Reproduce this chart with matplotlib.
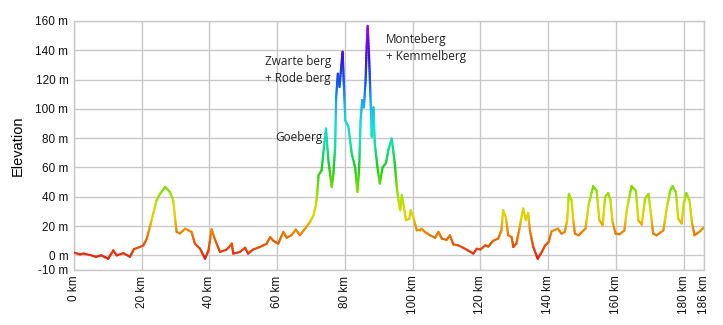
import numpy as np
import matplotlib
matplotlib.use("Agg")
import matplotlib.pyplot as plt
from matplotlib.collections import LineCollection
from matplotlib.colors import LinearSegmentedColormap, Normalize

# route profile: distance (km) and elevation (m)
distance_km = [
    0, 1.8, 2.8, 4.8, 6.5, 8, 10.1, 11.6, 12.6, 14.6, 16.5, 17.7, 19.5, 20.5,
    21.5, 22.4, 23.4, 24.4, 25.4, 26.9, 28.3, 29.3, 29.8, 30.3, 31.3, 32.8,
    34.7, 35.7, 37.2, 38.7, 39.7, 40.6, 41.6, 43.1, 45.1, 46.6, 47, 49, 50.5,
    51.4, 52.9, 54.9, 56.9, 57.9, 58.8, 60.3, 61.8, 62.8, 64.2, 65.5, 66.7,
    68.2, 69.7, 70.7, 71.4, 71.8, 72.2, 73.1, 73.8, 74.4, 75.1, 76.1, 76.6,
    77.1, 77.4, 77.9, 78.4, 78.8, 79.3, 79.7, 80.1, 81, 82, 83, 83.7, 84.2,
    84.6, 85.1, 85.6, 86.1, 86.4, 86.7, 87.1, 87.5, 87.9, 88.4, 88.8, 89.6,
    90.3, 91.1, 92.1, 92.8, 93.8, 94.6, 95.3, 95.8, 96.3, 96.8, 97.4, 98, 99,
    99.4, 100.2, 101.2, 102.2, 102.6, 103.6, 105.1, 106.6, 107.6, 108.6, 110,
    111, 112, 113.5, 114.9, 116.3, 117.9, 118.9, 120, 121.4, 122.3, 123.8,
    125.2, 126.2, 126.7, 127.5, 128.2, 129.2, 129.7, 130.6, 131.6, 132.6,
    133.4, 134.1, 134.6, 135.6, 136.9, 138.1, 139.1, 140.1, 141, 142.9, 143.9,
    144.9, 145.6, 146.1, 146.9, 147.4, 147.9, 149, 150, 151, 152, 153.3, 154.3,
    155.1, 156.1, 156.8, 157.7, 158.4, 159, 159.9, 161.1, 162.5, 163.2, 164.6,
    165.9, 166.6, 167.6, 168.6, 169.6, 170.2, 171, 172, 174, 175, 176, 176.7,
    177.7, 178.4, 179.4, 180, 180.8, 181.7, 182.5, 183.2, 184.6, 185.6, 186,
]
elevation_m = [
    1.8, 0.7, 1.2, 0.2, -1, 0, -2.3, 3.4, 0, 1.5, -1, 4.3, 5.7, 6.8,
    11.4, 19.4, 28.5, 37.6, 42, 46.7, 43.3, 37.6, 26.2, 16, 15, 18.2,
    16, 8, 4.6, -2.3, 3.4, 17.8, 11, 2.3, 4, 8, 1.2, 2.3, 5.2,
    1.2, 4, 5.7, 8, 12.5, 10, 8, 16, 12, 13.7, 17.6, 13.7,
    18.2, 22.8, 27.3, 34, 42, 54.7, 58, 74, 86.6, 65, 46.7, 56,
    74, 108, 124, 115, 126, 139, 115, 92, 88, 69.5, 60, 43.3, 60,
    92, 106, 101, 119.7, 142, 156.6, 137, 110.5, 81, 101, 76.4, 60,
    49, 60, 63, 71.8, 79.8, 65, 46.7, 37.6, 30.8, 41, 33, 24, 25,
    30.8, 26, 17, 17, 18.2, 16, 13.7, 12, 16, 11.4, 10.6,
    13.7, 7.5, 6.8, 5.2, 3.4, 1.2, 4.5, 4, 6.8, 6, 10,
    11.4, 17, 30.8, 26, 13.7, 12.5, 5.7, 8, 19.4, 32,
    24, 29, 17, 5.7, -2.3, 2.3, 6.8, 9, 16.4, 18.2, 14.8,
    16, 24, 42, 37.6, 24, 14.8, 13.7, 16, 18.2, 35.3, 47.2, 44.3,
    24, 20.5, 39.9, 42.6, 37.6, 22.8, 14.8, 14.4, 17, 30.8, 47.2,
    44, 24, 21, 38.7, 42, 30.8, 14.8, 13.7, 17, 32, 44, 47.2,
    43.3, 25, 21.7, 35.3, 42.6, 37.6, 21.7, 13.7, 16, 18.2, 19,
]

x_ticks = [0, 20, 40, 60, 80, 100, 120, 140, 160, 180, 186]
y_ticks = [-10, 0, 20, 40, 60, 80, 100, 120, 140, 160]

climbs = [
    ("Zwarte berg\n+ Rode berg", 56.5, 137),
    ("Goeberg", 59.5, 85),
    ("Monteberg\n+ Kemmelberg", 92.2, 152),
]

# elevation colour scale, red at sea level up to violet at the top
stops = [(-5, "#e00000"), (0, "#e62e12"), (10, "#ea6200"), (18, "#ee9000"),
         (25, "#e6cf00"), (35, "#c4e000"), (45, "#7ee000"), (60, "#14d014"),
         (75, "#12dfa0"), (90, "#14dfe0"), (105, "#18a6f0"), (120, "#1050ee"),
         (135, "#3a12e0"), (160, "#b800f0")]
lo, hi = stops[0][0], stops[-1][0]
cmap = LinearSegmentedColormap.from_list(
    "elev", [((v - lo) / (hi - lo), c) for v, c in stops])
norm = Normalize(lo, hi)

plt.rcParams['font.family'] = ['Liberation Sans', 'DejaVu Sans']

fig = plt.figure(figsize=(7.23, 3.25), dpi=100)
ax = fig.add_axes([74 / 723, 55 / 325, 630 / 723, 249 / 325])

# split every leg into short pieces so the colour follows the elevation
x = np.array(distance_km)
y = np.array(elevation_m)
segs, mids = [], []
for i in range(len(x) - 1):
    n = max(1, int(abs(y[i + 1] - y[i]) / 2) + 1)
    t = np.linspace(0, 1, n + 1)
    xs = x[i] + (x[i + 1] - x[i]) * t
    ys = y[i] + (y[i + 1] - y[i]) * t
    for j in range(n):
        segs.append([(xs[j], ys[j]), (xs[j + 1], ys[j + 1])])
        mids.append((ys[j] + ys[j + 1]) / 2)
lc = LineCollection(segs, colors=cmap(norm(np.array(mids))),
                    linewidths=1.6, capstyle='round', joinstyle='round', zorder=3)
ax.add_collection(lc)

ax.set_xlim(0, 186)
ax.set_ylim(-10, 160)
ax.set_xticks(x_ticks)
ax.set_xticklabels([f"{t} km" for t in x_ticks], rotation=90, fontsize=8.5)
ax.set_yticks(y_ticks)
ax.set_yticklabels([f"{t} m" for t in y_ticks], fontsize=8.5)
ax.tick_params(length=0, pad=4, colors='#111111')
ax.grid(True, color='#c8c8c8', linewidth=1)
ax.set_axisbelow(True)
for sp in ax.spines.values():
    sp.set_color('#c8c8c8')
    sp.set_linewidth(1)

ax.set_ylabel("Elevation", fontsize=10.5, labelpad=8)

for label, lx, ly in climbs:
    ax.text(lx, ly, label, fontsize=8.5, family=['Open Sans', 'DejaVu Sans'],
            color='#222222', va='top', ha='left', linespacing=1.45, zorder=4)

fig.savefig("out.png", dpi=100)
